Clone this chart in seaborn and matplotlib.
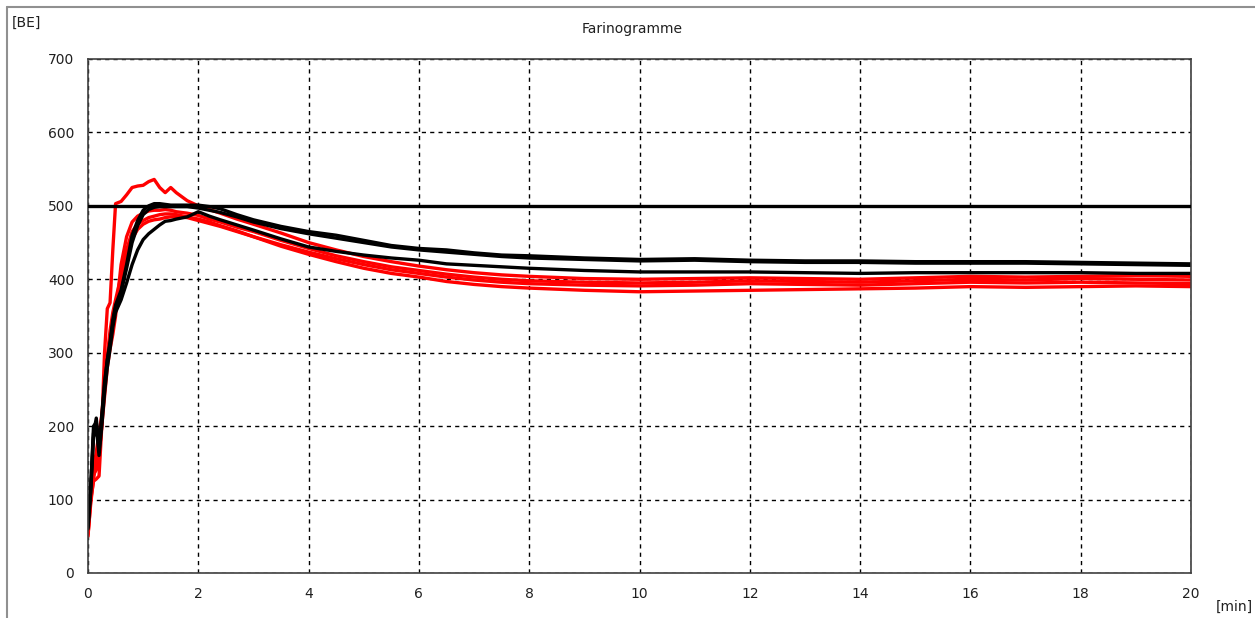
import numpy as np
import pandas as pd
import seaborn as sns
import matplotlib.pyplot as plt
from matplotlib.lines import Line2D

# time grid [min]
t = [0, 0.05, 0.1, 0.15, 0.2, 0.25, 0.3, 0.35, 0.4, 0.45, 0.5,
     0.6, 0.7, 0.8, 0.9, 1.0, 1.1, 1.2, 1.3, 1.4, 1.5, 1.6,
     1.8, 2.0, 2.2, 2.4, 2.7, 3.0, 3.5,
     4, 4.5, 5, 5.5, 6, 6.5, 7, 7.5, 8,
     9, 10, 11, 12, 13, 14, 15, 16, 17, 18, 19, 20]

# red curves [BE]
r1 = [50, 100, 125, 128, 132, 200, 300, 360, 368, 440, 503,
      506, 515, 525, 527, 528, 533, 536, 525, 518, 525, 518,
      507, 500, 495, 490, 482, 475, 463,
      450, 440, 431, 424, 418, 413, 409, 406, 404,
      401, 400, 401, 402, 401, 400, 402, 404, 403, 404, 405, 404]
r2 = [55, 110, 135, 140, 160, 200, 240, 280, 305, 325, 350,
      420, 458, 478, 486, 490, 493, 494, 494, 495, 494, 492,
      490, 487, 482, 478, 471, 465, 453,
      442, 432, 424, 417, 412, 407, 403, 400, 398,
      396, 395, 396, 398, 397, 396, 398, 400, 399, 401, 400, 399]
r3 = [52, 95, 128, 150, 175, 205, 250, 290, 320, 345, 365,
      400, 430, 455, 468, 475, 479, 481, 482, 484, 485, 485,
      484, 480, 476, 472, 465, 458, 447,
      437, 428, 420, 413, 408, 403, 399, 396, 394,
      392, 391, 392, 394, 393, 392, 394, 396, 395, 396, 395, 394]
r4 = [58, 105, 140, 165, 190, 215, 255, 295, 330, 355, 372,
      405, 440, 465, 475, 480, 484, 486, 488, 489, 489, 488,
      485, 482, 478, 473, 466, 458, 445,
      434, 424, 415, 408, 403, 397, 393, 390, 388,
      385, 383, 384, 385, 386, 387, 388, 390, 389, 390, 391, 390]

# black curves [BE]
b1 = [65, 120, 190, 211, 170, 215, 260, 290, 315, 345, 365,
      385, 420, 460, 480, 494, 500, 503, 503, 502, 501, 501,
      501, 501, 499, 496, 488, 481, 472,
      465, 460, 453, 446, 442, 440, 436, 433, 432,
      429, 427, 428, 426, 425, 425, 424, 424, 424, 423, 422, 421]
b2 = [60, 115, 200, 205, 165, 210, 255, 290, 312, 340, 362,
      382, 415, 450, 473, 488, 495, 498, 499, 499, 499, 499,
      499, 497, 494, 491, 485, 478, 469,
      462, 456, 450, 444, 440, 437, 434, 431, 429,
      427, 425, 426, 424, 423, 423, 422, 422, 422, 421, 420, 419]
b3 = [62, 110, 185, 200, 160, 200, 245, 280, 305, 335, 355,
      372, 395, 420, 440, 454, 462, 468, 474, 479, 480, 482,
      485, 492, 486, 481, 474, 467, 455,
      444, 438, 433, 429, 426, 421, 419, 417, 415,
      412, 410, 410, 410, 409, 408, 409, 409, 409, 409, 408, 408]

target = 500

curves = {"r1": r1, "r2": r2, "r3": r3, "r4": r4, "b1": b1, "b2": b2, "b3": b3}
colors = {"r1": "#ff0000", "r2": "#ff0000", "r3": "#ff0000", "r4": "#ff0000",
          "b1": "#000000", "b2": "#000000", "b3": "#000000"}

df = pd.concat([pd.DataFrame({"t": t, "BE": v, "curve": k}) for k, v in curves.items()])

sns.set_style("white")
plt.rcParams["font.family"] = ["DejaVu Sans"]

fig = plt.figure(figsize=(12.55, 6.18), dpi=100)
ax = fig.add_axes([88 / 1255, 1 - 573 / 618, (1191 - 88) / 1255, (573 - 59) / 618])

sns.lineplot(data=df, x="t", y="BE", hue="curve", palette=colors,
             estimator=None, sort=False, legend=False, linewidth=2.4, ax=ax)
ax.axhline(target, color="black", linewidth=2.4, zorder=3)

ax.set_xlim(0, 20)
ax.set_ylim(0, 700)
ax.set_xticks(np.arange(0, 21, 2))
ax.set_yticks(np.arange(0, 701, 100))
ax.set_xlabel("")
ax.set_ylabel("")
ax.grid(True, color="black", linestyle=(0, (3, 3)), linewidth=1.0)
ax.set_axisbelow(True)
for s in ax.spines.values():
    s.set_color("#404040")
    s.set_linewidth(1.2)
ax.tick_params(axis="both", length=4, width=1, color="#404040",
               labelsize=10, labelcolor="#202020", pad=6)

fig.text(632 / 1255, 1 - 29 / 618, "Farinogramme", ha="center", va="center",
         fontsize=10, color="#202020")
fig.text(12 / 1255, 1 - 23 / 618, "[BE]", ha="left", va="center",
         fontsize=10, color="#202020")
fig.text(1253 / 1255, 1 - 607 / 618, "[min]", ha="right", va="center",
         fontsize=10, color="#202020")

# outer frame (left and top edges)
fig.add_artist(Line2D([7 / 1255, 7 / 1255], [0, 1 - 7 / 618],
                      transform=fig.transFigure, color="#909090", linewidth=1.5))
fig.add_artist(Line2D([7 / 1255, 1], [1 - 7 / 618, 1 - 7 / 618],
                      transform=fig.transFigure, color="#909090", linewidth=1.5))

fig.savefig("out.png", dpi=100)
